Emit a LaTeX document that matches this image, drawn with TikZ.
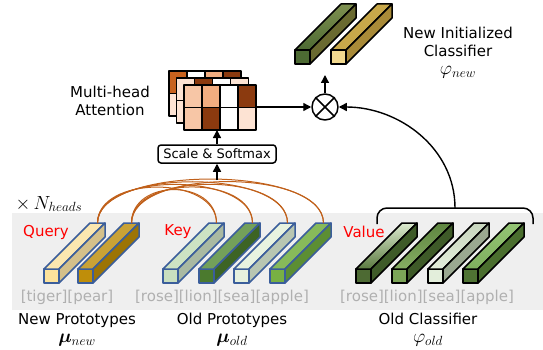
\RequirePackage{fix-cm}
\documentclass[tikz,border=0pt]{standalone}
\usepackage{amsmath,amssymb,bm}
\usepackage{fontspec}
\setmainfont{DejaVu Sans}
\usepackage{tikz}
\usetikzlibrary{arrows.meta,positioning,calc}

% attention cells
\definecolor{attnK}{HTML}{8B3A0F}
\definecolor{attnA}{HTML}{F7C6A6}
\definecolor{attnB}{HTML}{F2AD80}
\definecolor{attnC}{HTML}{FDE3D3}
\definecolor{attnD}{HTML}{C8621E}
\definecolor{arcbrown}{HTML}{C0601A}
\definecolor{qkblue}{HTML}{3B5E9B}
\definecolor{bandgray}{HTML}{EFEFEF}
\definecolor{labgray}{HTML}{B0B0B0}
% query / key faces
\definecolor{qaF}{HTML}{FDE39C}\definecolor{qaT}{HTML}{FBE7B0}\definecolor{qaS}{HTML}{D4C08A}
\definecolor{qbF}{HTML}{BF8E0A}\definecolor{qbT}{HTML}{C9A236}\definecolor{qbS}{HTML}{9C7405}
\definecolor{kaF}{HTML}{C9DFBF}\definecolor{kaT}{HTML}{CDE3C3}\definecolor{kaS}{HTML}{A9B9A2}
\definecolor{kbF}{HTML}{4B7A2E}\definecolor{kbT}{HTML}{73A05A}\definecolor{kbS}{HTML}{3D6424}
\definecolor{kcF}{HTML}{E6F1DE}\definecolor{kcT}{HTML}{E8F3E0}\definecolor{kcS}{HTML}{B8C6B2}
\definecolor{kdF}{HTML}{78B043}\definecolor{kdT}{HTML}{87BA5A}\definecolor{kdS}{HTML}{5C8E33}
% classifier faces
\definecolor{vaF}{HTML}{4D6A33}\definecolor{vaB}{HTML}{DDEBD0}\definecolor{vaM}{HTML}{5B7A40}\definecolor{vaS}{HTML}{3E5A28}
\definecolor{vbF}{HTML}{7BA457}\definecolor{vbB}{HTML}{5E8540}\definecolor{vbM}{HTML}{86AD63}\definecolor{vbS}{HTML}{3E5A28}
\definecolor{vcF}{HTML}{E3EEDB}\definecolor{vcB}{HTML}{C8D6BE}\definecolor{vcM}{HTML}{4E6B38}\definecolor{vcS}{HTML}{9AA890}
\definecolor{vdF}{HTML}{4F7333}\definecolor{vdB}{HTML}{94C474}\definecolor{vdM}{HTML}{7FAF5E}\definecolor{vdS}{HTML}{4A6E2E}
\definecolor{naF}{HTML}{4D6A33}\definecolor{naB}{HTML}{7E9050}\definecolor{naM}{HTML}{E8E0A8}\definecolor{naS}{HTML}{6A6A30}
\definecolor{nbF}{HTML}{F2D98F}\definecolor{nbB}{HTML}{C8A84A}\definecolor{nbM}{HTML}{F4E4A8}\definecolor{nbS}{HTML}{A88A38}

% bar: name, x, y, front, top options, side, border
\newcommand{\protobar}[7]{%
  \filldraw[draw=#7, fill=#4] (#2,#3) rectangle ++(15,14);
  \path[draw=#7, #5] (#2,#3) -- ++(15,0) -- ++(46,-46) -- ++(-15,0) -- cycle;
  \filldraw[draw=#7, fill=#6] (#2+15,#3) -- ++(0,14) -- ++(46,-46) -- ++(0,-14) -- cycle;
  \coordinate (#1) at (#2+53.5,#3-46);
}
% larger math for the symbols
\newcommand{\mlab}[1]{{\fontsize{19}{20}\selectfont$#1$}}

\begin{document}
\begin{tikzpicture}[x=1pt, y=-1pt, line width=1.5pt, line join=round,
    lbl/.style={font=\fontsize{15}{18}\selectfont, inner sep=0pt, align=center},
    tag/.style={lbl, text=red},
    cls/.style={lbl, text=labgray},
    cell/.style={draw=black, line width=1.5pt},
    arr/.style={-{Triangle[length=8pt,width=8pt]}, line width=1.4pt},
    qk/.style={draw=arcbrown, line width=1pt}
  ]
    \useasboundingbox (0,0) rectangle (543,350);

    % Grey band
    \fill[bandgray] (12,213) rectangle (543,310);

    % Query bars
    \protobar{q1}{44}{269}{qaF}{fill=qaT}{qaS}{qkblue}
    \protobar{q2}{78}{269}{qbF}{fill=qbT}{qbS}{qkblue}

    % Key bars
    \protobar{k1}{163}{269}{kaF}{fill=kaT}{kaS}{qkblue}
    \protobar{k2}{199}{269}{kbF}{fill=kbT}{kbS}{qkblue}
    \protobar{k3}{234}{269}{kcF}{fill=kcT}{kcS}{qkblue}
    \protobar{k4}{270}{269}{kdF}{fill=kdT}{kdS}{qkblue}

    % Value bars
    \protobar{v1}{356}{269}{vaF}{top color=vaB, bottom color=vaM}{vaS}{black}
    \protobar{v2}{392}{269}{vbF}{top color=vbB, bottom color=vbM}{vbS}{black}
    \protobar{v3}{428}{269}{vcF}{top color=vcB, middle color=vcM, bottom color=vcF}{vcS}{black}
    \protobar{v4}{463}{269}{vdF}{top color=vdB, bottom color=vdM}{vdS}{black}

    % New classifier bars
    \protobar{n1}{295}{50}{naF}{top color=naB, middle color=naM, bottom color=naF}{naS}{black}
    \protobar{n2}{331}{50}{nbF}{top color=nbB, middle color=nbM, bottom color=nbB}{nbS}{black}

    % Query-key arcs
    \foreach \q in {q1,q2}
      \foreach \k in {k1,k2,k3,k4} {
        \path let \p1=(\q), \p2=(\k), \n1={36+0.1*(\x2-\x1)} in
          coordinate (cq) at (\x1,\y1+\n1) coordinate (ck) at (\x2,\y2+\n1);
        \draw[qk] (\q) .. controls (cq) and (ck) .. (\k);
      }
    \coordinate (qktop) at (217,180);

    % Scale & Softmax
    \node[draw, rounded corners=3pt, minimum width=118pt, minimum height=18pt, inner sep=1pt,
          font=\fontsize{13}{15}\selectfont] (soft) at (217,154) {Scale \& Softmax};

    % Attention heads
    \foreach \c [count=\i from 0] in {attnD,white,attnB,attnK}
      \filldraw[cell, fill=\c] (169+18*\i,71) rectangle ++(18,22.5);
    \foreach \c [count=\i from 0] in {attnC,attnC,white,attnA}
      \filldraw[cell, fill=\c] (169+18*\i,93.5) rectangle ++(18,22.5);
    \foreach \c [count=\i from 0] in {attnC,attnK,white,attnC}
      \filldraw[cell, fill=\c] (176.5+18*\i,78) rectangle ++(18,22.5);
    \foreach \c [count=\i from 0] in {attnC,attnB,white,attnC}
      \filldraw[cell, fill=\c] (176.5+18*\i,100.5) rectangle ++(18,22.5);
    \foreach \c [count=\i from 0] in {attnA,attnB,white,attnK}
      \filldraw[cell, fill=\c] (184+18*\i,85) rectangle ++(18,22.5);
    \foreach \c [count=\i from 0] in {attnA,attnK,white,attnC}
      \filldraw[cell, fill=\c] (184+18*\i,107.5) rectangle ++(18,22.5);
    \coordinate (attS) at (217,130);
    \coordinate (attE) at (256,107);

    % Multiply
    \node[draw, circle, minimum size=26pt, inner sep=0pt] (mul) at (325,107) {};
    \draw (mul.north west) -- (mul.south east) (mul.north east) -- (mul.south west);

    % Brace over old classifier
    \draw[rounded corners=10pt] (377,224) |- (455,208) -| (533,224);
    \coordinate (brc) at (455,208);

    % Connectors
    \draw[arr] (qktop) -- (soft.south);
    \draw[arr] (soft.north) -- (attS);
    \draw[arr] (attE) -- (mul.west);
    \draw[arr] (brc) to[out=90, in=0] (mul.east);
    \draw[arr] (mul.north) -- (325,75);

    % Labels
    \node[lbl, anchor=west] (heads) at (15,204) {\mlab{\times\,N_{heads}}};
    \node[tag] (tq) at (46,232) {Query};
    \node[tag] (tk) at (178,232) {Key};
    \node[tag] (tv) at (364,232) {Value};
    \node[cls] (cn) at (67,297) {[tiger][pear]};
    \node[cls] (co) at (222,297) {[rose][lion][sea][apple]};
    \node[cls] (cv) at (427,297) {[rose][lion][sea][apple]};
    \node[lbl] (pn) at (77,330) {New Prototypes\\\mlab{\bm{\mu}_{new}}};
    \node[lbl] (po) at (232,330) {Old Prototypes\\\mlab{\bm{\mu}_{old}}};
    \node[lbl] (pc) at (428,330) {Old Classifier\\\mlab{\varphi_{old}}};
    \node[lbl] (mha) at (110,101) {Multi-head\\Attention};
    \node[lbl] (nic) at (458,53) {New Initialized\\Classifier\\\mlab{\varphi_{new}}};
  \end{tikzpicture}
\end{document}
